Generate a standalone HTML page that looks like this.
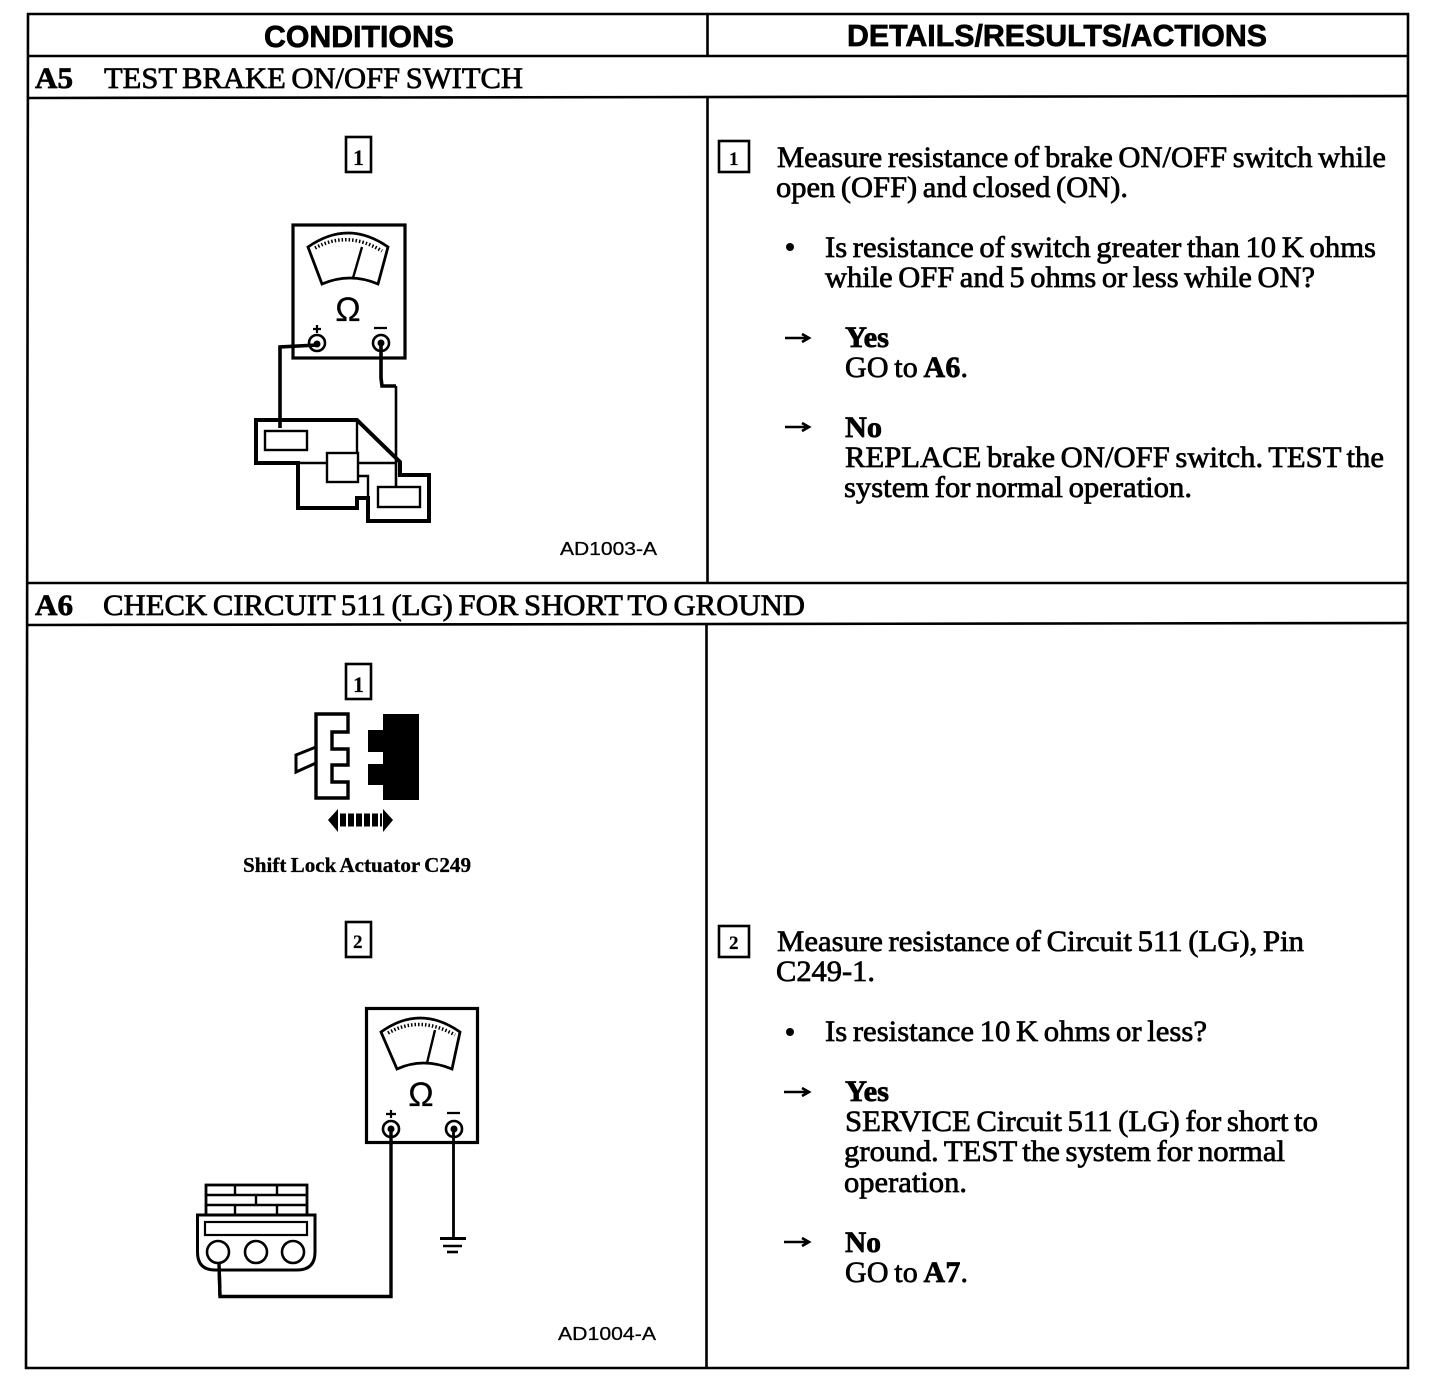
<!DOCTYPE html>
<html><head><meta charset="utf-8"><style>
html,body{margin:0;padding:0;background:#fff}
svg{display:block}
text{font-family:"Liberation Serif",serif;font-size:30px;word-spacing:-2px;fill:#000;stroke:#000;stroke-width:.7px}
.b{font-weight:bold}
.s{font-family:"Liberation Sans",sans-serif;font-size:18px;stroke-width:.25px;word-spacing:0}
.h{font-family:"Liberation Sans",sans-serif;font-weight:bold;font-size:31px;stroke-width:.7px;word-spacing:0}
.l{font-size:21px;font-weight:bold;word-spacing:-1px;stroke-width:.3px}
.n{font-size:22px;font-weight:bold;stroke-width:.2px}
.o{font-family:"Liberation Sans",sans-serif;font-size:34px;stroke-width:.2px}
</style></head><body>
<svg xmlns="http://www.w3.org/2000/svg" width="1456" height="1384" viewBox="0 0 1456 1384">
<rect width="1456" height="1384" fill="#fff"/>
<!-- table -->
<g stroke-width="2.600" fill="none" stroke="#000">
<path d="M28 14H1408V1368H26Z"/>
<path d="M28 56H1408M28 98L1408 96M27 583H1408M27 625L1408 623"/>
<path d="M707.500 14V56M707.500 97V583M706.500 624V1368"/>
</g>
<text class="h" x="264" y="47" textLength="190" lengthAdjust="spacingAndGlyphs">CONDITIONS</text>
<text class="h" x="847" y="46" textLength="420" lengthAdjust="spacingAndGlyphs">DETAILS/RESULTS/ACTIONS</text>
<text class="b" x="35" y="88" textLength="38" lengthAdjust="spacingAndGlyphs">A5</text>
<text x="104" y="88" textLength="419" lengthAdjust="spacingAndGlyphs">TEST BRAKE ON/OFF SWITCH</text>
<text class="b" x="35" y="615" textLength="38" lengthAdjust="spacingAndGlyphs">A6</text>
<text x="103" y="615" textLength="702" lengthAdjust="spacingAndGlyphs">CHECK CIRCUIT 511 (LG) FOR SHORT TO GROUND</text>

<!-- label boxes -->
<g fill="none" stroke="#000" stroke-width="2.600">
<rect x="346" y="137" width="25" height="35"/>
<rect x="346" y="664" width="25" height="35"/>
<rect x="346" y="922" width="25" height="35"/>
<rect x="719" y="141" width="30" height="31"/>
<rect x="719" y="926" width="30" height="31"/>
</g>
<text class="n" x="353" y="165">1</text>
<text class="n" x="353" y="692">1</text>
<text class="n" x="353" y="948" style="font-size:19px">2</text>
<text class="n" x="729" y="165" style="font-size:19px">1</text>
<text class="n" x="729" y="949" style="font-size:19px">2</text>

<!-- Meter 1 -->
<g fill="none" stroke="#000" stroke-linejoin="miter">
<rect x="293" y="225" width="112" height="133" stroke-width="3.200"/>
<path d="M308 247Q348 219 388 247L378 284Q350 272 322 284Z" stroke-width="2.800"/>
<path d="M315 248Q348 230 382 251" stroke-width="3.500" stroke-dasharray="1.500 2"/>
<path d="M353 278L362 247" stroke-width="2.400"/>
<circle cx="317" cy="343" r="8" stroke-width="2.600"/>
<circle cx="381" cy="343" r="8" stroke-width="2.600"/>
<path d="M317 345L280 347V428" stroke-width="3.600"/>
<path d="M381 343V378L382 386H396" stroke-width="3.600"/>
<path d="M256 420H357L400 462V475H429V521H368V498H357V508H298V463H256Z" stroke-width="4"/>
<path d="M357 420V463M298 463H327M358 463H396M358 476H368V498" stroke-width="2.400"/>
<rect x="327" y="453" width="31" height="29" stroke-width="2.400" fill="#fff"/>
<rect x="265" y="431" width="42" height="19" stroke-width="2.400" fill="#fff"/>
<rect x="378" y="487" width="42" height="20" stroke-width="2.400" fill="#fff"/>
<path d="M396 386V487" stroke-width="2.600"/>
</g>
<circle cx="317" cy="344" r="3.500" fill="#000"/><circle cx="381" cy="343" r="3.500" fill="#000"/>
<text class="o" x="348" y="321" text-anchor="middle">Ω</text>
<path d="M313 329H321M317 325V333M374 328H387" stroke="#000" stroke-width="2.200" fill="none"/>
<text class="s" x="560" y="555" textLength="97" lengthAdjust="spacingAndGlyphs">AD1003-A</text>

<!-- Connector -->
<path d="M316 714H348V732H332V749H348V765H332V782H348V798H316Z" fill="#fff" stroke="#000" stroke-width="3.400"/>
<path d="M316 747L296 755V772L316 763" fill="none" stroke="#000" stroke-width="3"/>
<path d="M383 714H419V800H383V785H368V764H383V752H368V730H383Z" fill="#000"/>
<path d="M328 820L338 809V832Z M393 820L383 809V832Z" fill="#000"/>
<path d="M340 820H382" stroke="#000" stroke-width="13" stroke-dasharray="6 2" fill="none"/>
<text class="l" x="243" y="872" textLength="228" lengthAdjust="spacingAndGlyphs">Shift Lock Actuator C249</text>

<!-- Meter 2 -->
<g fill="none" stroke="#000">
<rect x="366.500" y="1008.500" width="111" height="134" stroke-width="3.200"/>
<path d="M381 1032Q420 1004 460 1032L452 1069Q423 1057 397 1069Z" stroke-width="2.800"/>
<path d="M388 1033Q420 1015 455 1035" stroke-width="3.500" stroke-dasharray="1.500 2"/>
<path d="M427 1063L435 1030" stroke-width="2.400"/>
<circle cx="391" cy="1129" r="8" stroke-width="2.600"/>
<circle cx="454" cy="1129" r="8" stroke-width="2.600"/>
<path d="M391 1129V1296.500H220L219 1263" stroke-width="3.400"/>
<path d="M453.500 1129V1238" stroke-width="2.800"/>
<path d="M440 1238.500H466" stroke-width="3"/>
<path d="M443 1246H462" stroke-width="2.600"/>
<path d="M447 1252H458" stroke-width="2.600"/>
<rect x="206" y="1185" width="101" height="30" stroke-width="2.800"/>
<path d="M206 1195H307M206 1205H307M235 1185V1195M277 1185V1195M256 1195V1205M235 1205V1215M277 1205V1215" stroke-width="2.400"/>
<path d="M197.500 1215H315V1252Q315 1270 297 1270H215Q197.500 1270 197.500 1252Z" stroke-width="3" fill="#fff"/>
<rect x="205" y="1222" width="102" height="13" stroke-width="2.200"/>
<circle cx="218" cy="1252" r="11" stroke-width="2.600" fill="#fff"/>
<circle cx="256" cy="1252" r="11" stroke-width="2.600"/>
<circle cx="293" cy="1252" r="11" stroke-width="2.600"/>
<path d="M219 1263L220 1296" stroke-width="3.400"/>
</g>
<circle cx="391" cy="1129" r="3.500" fill="#000"/><circle cx="454" cy="1129" r="3.500" fill="#000"/>
<text class="o" x="421" y="1106" text-anchor="middle">Ω</text>
<path d="M386 1114H396M391 1110V1118M447 1113H460" stroke="#000" stroke-width="2.200" fill="none"/>
<text class="s" x="558" y="1340" textLength="98" lengthAdjust="spacingAndGlyphs">AD1004-A</text>

<!-- Right text A5 -->
<text x="777" y="167" textLength="609" lengthAdjust="spacingAndGlyphs">Measure resistance of brake ON/OFF switch while</text>
<text x="776" y="197" textLength="352" lengthAdjust="spacingAndGlyphs">open (OFF) and closed (ON).</text>
<circle cx="790" cy="247" r="4" fill="#000"/>
<text x="825" y="257" textLength="551" lengthAdjust="spacingAndGlyphs">Is resistance of switch greater than 10 K ohms</text>
<text x="825" y="287" textLength="490" lengthAdjust="spacingAndGlyphs">while OFF and 5 ohms or less while ON?</text>
<g fill="none" stroke="#000" stroke-width="2.600">
<path d="M785 338H808M802 334L809 338L802 342"/>
<path d="M785 427H808M802 423L809 427L802 431"/>
<path d="M784 1092H808M802 1088L809 1092L802 1096"/>
<path d="M784 1242H808M802 1238L809 1242L802 1246"/>
</g>
<text class="b" x="845" y="347" textLength="44" lengthAdjust="spacingAndGlyphs">Yes</text>
<text x="845" y="377" textLength="123" lengthAdjust="spacing">GO to <tspan class="b">A6</tspan>.</text>
<text class="b" x="845" y="437" textLength="37" lengthAdjust="spacingAndGlyphs">No</text>
<text x="845" y="467" textLength="539" lengthAdjust="spacingAndGlyphs">REPLACE brake ON/OFF switch. TEST the</text>
<text x="844" y="497" textLength="348" lengthAdjust="spacingAndGlyphs">system for normal operation.</text>

<!-- Right text A6 -->
<text x="777" y="951" textLength="527" lengthAdjust="spacingAndGlyphs">Measure resistance of Circuit 511 (LG), Pin</text>
<text x="776" y="981" textLength="99" lengthAdjust="spacingAndGlyphs">C249-1.</text>
<circle cx="790" cy="1032" r="4" fill="#000"/>
<text x="825" y="1041" textLength="382" lengthAdjust="spacingAndGlyphs">Is resistance 10 K ohms or less?</text>
<text class="b" x="845" y="1101" textLength="44" lengthAdjust="spacingAndGlyphs">Yes</text>
<text x="845" y="1131" textLength="473" lengthAdjust="spacingAndGlyphs">SERVICE Circuit 511 (LG) for short to</text>
<text x="844" y="1161" textLength="441" lengthAdjust="spacingAndGlyphs">ground. TEST the system for normal</text>
<text x="844" y="1192" textLength="123" lengthAdjust="spacingAndGlyphs">operation.</text>
<text class="b" x="845" y="1252" textLength="36" lengthAdjust="spacingAndGlyphs">No</text>
<text x="845" y="1282" textLength="123" lengthAdjust="spacing">GO to <tspan class="b">A7</tspan>.</text>
</svg>
</body></html>
